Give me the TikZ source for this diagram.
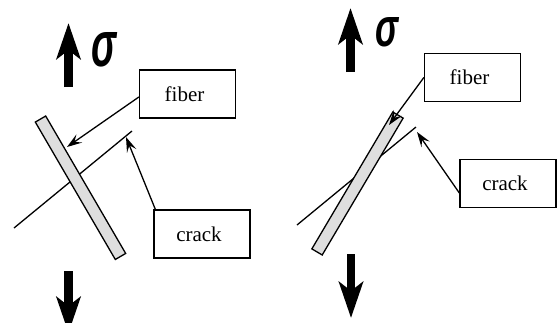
\documentclass[tikz,border=0pt]{standalone}
\usepackage{fontspec}
\usepackage{graphicx}
\setmainfont{Liberation Serif}
\newfontfamily\sigmafont{Liberation Sans}
\usetikzlibrary{arrows.meta}
\begin{document}
\begin{tikzpicture}[x=1pt,y=-1pt,
  labelbox/.style={draw, line width=1.3pt, minimum width=96pt, minimum height=48pt,
    inner sep=0pt, font=\fontsize{21}{24}\selectfont},
  pointer/.style={line width=1.3pt, -{Stealth[length=15pt,width=10pt,inset=6pt]}},
  load/.style={line width=8.5pt, -{Stealth[length=36pt,width=24pt,inset=9pt]}},
  fiberbar/.style={draw, line width=1.3pt, fill=black!13, minimum width=12pt,
    minimum height=159pt, inner sep=0pt},
  crackline/.style={line width=1.3pt},
  stresslabel/.style={inner sep=0pt}]
\useasboundingbox (0,0) rectangle (558,322);
\clip (0,0) rectangle (558,322);

% ---------- left: fiber inclined against the crack ----------
\coordinate (lup0) at (68.5,87);
\coordinate (lup1) at (68.5,23);
\draw[load] (lup0) -- (lup1);
\node[stresslabel] (lsig) at (104.5,50)
  {\resizebox{25pt}{34pt}{\sigmafont\bfseries\itshape σ}};
\coordinate (ldn0) at (68.5,271);
\coordinate (ldn1) at (68.5,333);
\draw[load] (ldn0) -- (ldn1);

\coordinate (lcr0) at (14,228);
\coordinate (lcr1) at (132,131);
\draw[crackline] (lcr0) -- (lcr1);
\node[fiberbar, rotate=30.2] (lfiber) at (80.5,187.75) {};

\node[labelbox] (lfib) at (187.5,94) {fiber\kern6pt};
\node[labelbox] (lcrk) at (202,234) {crack\kern6pt};
\coordinate (lfibtip) at (67,147);
\coordinate (lcrktip) at (126,137);
\draw[pointer] ([yshift=-3pt]lfib.west) -- (lfibtip);
\draw[pointer] ([xshift=2pt]lcrk.north west) -- (lcrktip);

% ---------- right: fiber nearly along the crack ----------
\coordinate (rup0) at (350.5,72);
\coordinate (rup1) at (350.5,8);
\draw[load] (rup0) -- (rup1);
\node[stresslabel] (rsig) at (386.5,32.5)
  {\resizebox{23pt}{29pt}{\sigmafont\bfseries\itshape σ}};
\coordinate (rdn0) at (351,254);
\coordinate (rdn1) at (351,318);
\draw[load] (rdn0) -- (rdn1);

\coordinate (rcr0) at (297,225);
\coordinate (rcr1) at (416,127);
\draw[crackline] (rcr0) -- (rcr1);
\node[fiberbar, rotate=-30.6] (rfiber) at (357.5,183.5) {};

\node[labelbox] (rfib) at (472.5,77.5) {fiber\kern6pt};
\node[labelbox] (rcrk) at (508,183.5) {crack\kern6pt};
\coordinate (rfibtip) at (389,125);
\coordinate (rcrktip) at (417,132);
\draw[pointer] (rfib.west) -- (rfibtip);
\draw[pointer] ([yshift=-9.5pt]rcrk.west) -- (rcrktip);
\end{tikzpicture}
\end{document}
